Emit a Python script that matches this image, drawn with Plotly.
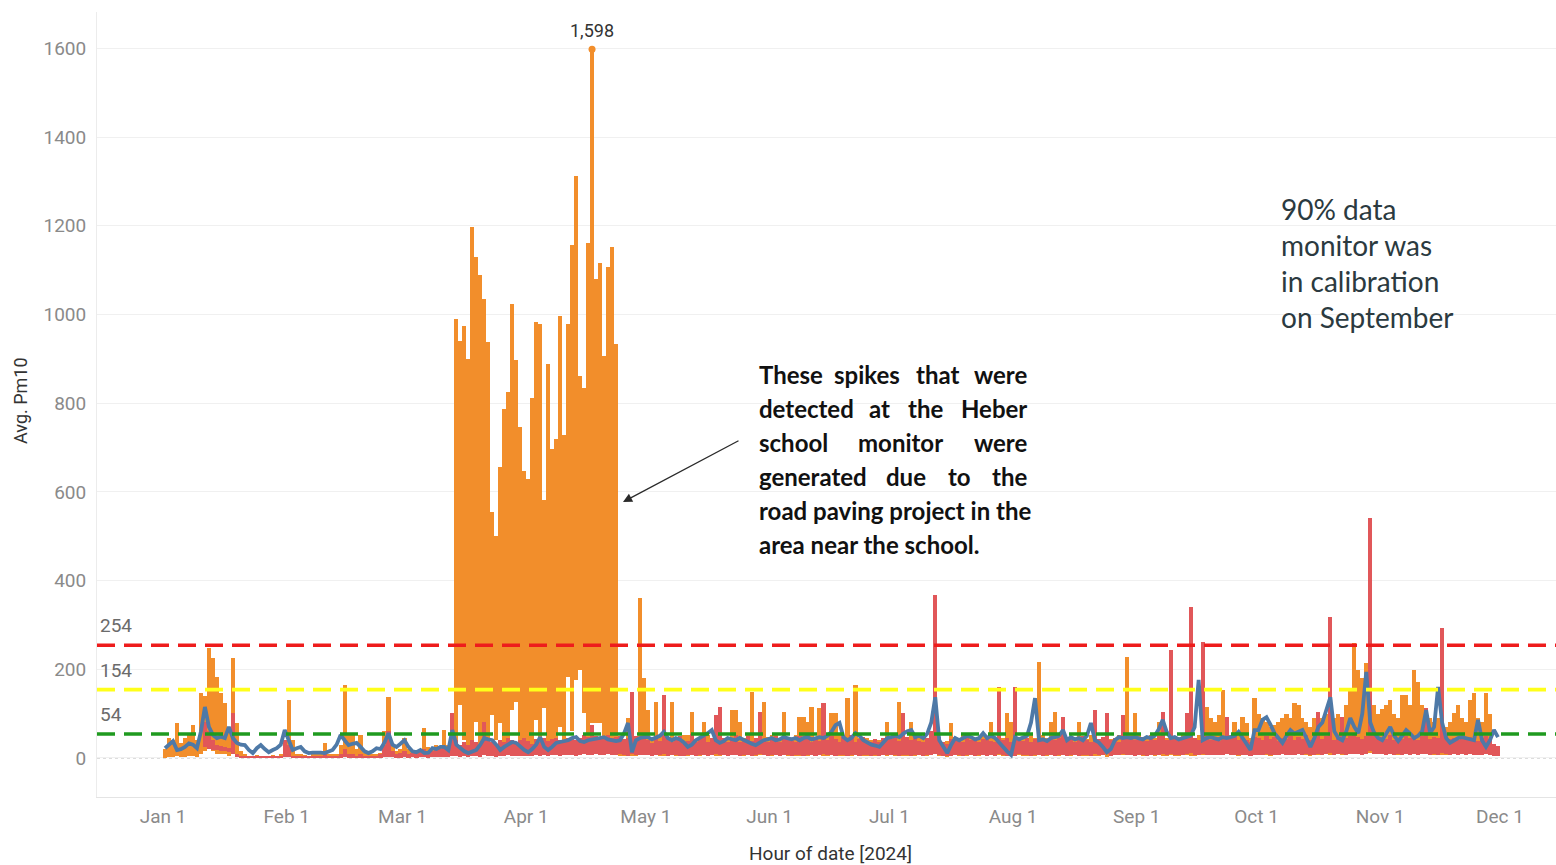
import pandas as pd
import plotly.graph_objects as go

# ---------------------------------------------------------------------------
# Daily summaries of the hourly Pm10 readings, 1 Jan - 30 Nov 2024.
# Each row holds one month.
# ---------------------------------------------------------------------------

# Heber school monitor: highest hourly value of each day
heber_high = [
    20, 45, 40, 79, 34, 45, 55, 74, 40, 146, 140, 248, 225, 183, 146, 124, 70, 225, 79, 15, 8, 5, 5, 6, 5, 4, 5, 6, 5, 8, 40,
    131, 40, 10, 8, 6, 5, 8, 10, 12, 34, 10, 8, 10, 30, 164, 55, 52, 20, 52, 12, 10, 8, 10, 12, 60, 137, 30, 15, 20,
    45, 20, 15, 12, 20, 68, 25, 20, 30, 25, 63, 30, 101, 990, 940, 975, 900, 1197, 1129, 1089, 1036, 937, 554, 500, 656, 786, 825, 1023, 897, 746, 647,
    629, 811, 983, 978, 581, 888, 696, 719, 996, 728, 978, 1156, 1312, 861, 834, 1161, 1598, 1080, 1116, 906, 1107, 1152, 933, 50, 40, 90, 60, 50, 360, 180,
    108, 45, 126, 52, 42, 45, 126, 48, 40, 52, 52, 104, 42, 45, 81, 52, 42, 40, 45, 38, 45, 108, 108, 80, 45, 52, 149, 45, 52, 126, 48,
    52, 52, 45, 104, 45, 42, 52, 92, 92, 80, 115, 45, 113, 45, 52, 101, 101, 52, 45, 135, 45, 164, 45, 42, 45, 40, 38, 40, 42, 81,
    45, 42, 126, 52, 45, 81, 45, 48, 42, 45, 48, 100, 42, 35, 38, 79, 45, 42, 52, 45, 48, 42, 45, 52, 45, 80, 45, 52, 45, 101, 81,
    81, 45, 42, 45, 52, 45, 216, 52, 45, 80, 104, 52, 86, 45, 42, 45, 80, 45, 42, 52, 45, 42, 45, 40, 42, 45, 52, 80, 228, 52, 101,
    52, 45, 50, 52, 45, 80, 52, 45, 52, 48, 45, 52, 80, 52, 45, 52, 80, 115, 90, 80, 97, 153, 90, 52, 80, 52, 92, 79, 45, 135,
    100, 90, 80, 70, 75, 80, 90, 100, 90, 124, 120, 90, 80, 70, 90, 80, 90, 100, 80, 90, 100, 80, 120, 150, 259, 198, 180, 214, 150, 120, 100,
    110, 120, 131, 100, 90, 142, 142, 120, 198, 171, 120, 100, 90, 80, 90, 80, 70, 80, 101, 119, 90, 80, 131, 146, 90, 80, 146, 100, None, None,
]

# Heber school monitor: lowest hourly value of each day
heber_low = [
    0, 2, 3, 5, 2, 3, 5, 4, 2, 10, 15, 20, 15, 10, 10, 8, 5, 10, 3, 2, 1, 1, 1, 1, 1, 1, 1, 1, 1, 1, 2,
    5, 3, 1, 1, 1, 1, 1, 1, 1, 2, 1, 1, 1, 2, 5, 3, 3, 2, 3, 1, 1, 1, 1, 1, 3, 5, 3, 2, 2,
    3, 2, 2, 2, 3, 5, 3, 3, 4, 3, 5, 4, 8, 30, 119, 40, 30, 40, 81, 30, 40, 30, 97, 40, 79, 30, 40, 108, 126, 30, 40,
    20, 30, 86, 40, 113, 30, 40, 30, 70, 40, 183, 60, 176, 198, 101, 40, 79, 79, 79, 30, 40, 30, 20, 5, 5, 8, 5, 5, 10, 8,
    6, 5, 8, 5, 4, 6, 7, 5, 4, 6, 5, 8, 5, 4, 6, 5, 7, 5, 4, 6, 5, 8, 6, 5, 4, 6, 8, 5, 6, 7, 5,
    5, 6, 4, 7, 5, 6, 5, 4, 6, 5, 7, 5, 6, 4, 5, 7, 6, 5, 4, 6, 5, 8, 5, 4, 5, 6, 4, 5, 6, 5,
    6, 5, 7, 5, 4, 6, 5, 6, 4, 5, 6, 8, 5, 4, 3, 5, 6, 5, 7, 5, 6, 4, 5, 6, 5, 7, 5, 6, 4, 6, 5,
    5, 6, 4, 5, 6, 5, 9, 6, 5, 7, 6, 5, 6, 4, 5, 6, 7, 5, 4, 6, 5, 4, 6, 3, 5, 6, 7, 6, 10, 6, 7,
    6, 5, 6, 7, 5, 6, 5, 4, 6, 5, 4, 6, 7, 5, 4, 6, 7, 9, 8, 6, 7, 10, 8, 6, 7, 5, 8, 6, 4, 9,
    8, 7, 6, 5, 6, 7, 8, 9, 7, 10, 9, 8, 7, 5, 8, 7, 8, 9, 7, 8, 9, 7, 10, 12, 15, 14, 12, 15, 12, 10, 8,
    9, 10, 11, 8, 7, 12, 11, 10, 14, 13, 10, 8, 7, 6, 8, 7, 6, 7, 9, 10, 8, 7, 11, 12, 8, 7, 12, 8, None, None,
]

# Second monitor: highest hourly value of each day
second_high = [
    None, None, None, None, None, None, None, None, None, None, 80, 60, 40, 30, 28, 25, 22, 101, 10, 5, 4, 4, 3, 3, 3, 4, 3, 3, 4, 5, 40,
    30, 5, 4, 3, 3, 4, 3, 3, 4, 8, 4, 3, 4, 8, 20, 10, 8, 5, 10, 5, 4, 4, 5, 8, 30, 60, 15, 10, 12,
    15, 10, 12, 10, 15, 20, 12, 15, 18, 20, 25, 20, 101, 40, 30, 35, 30, 40, 35, 30, 81, 40, 35, 30, 40, 35, 45, 40, 35, 40, 45,
    38, 32, 42, 36, 45, 38, 42, 46, 40, 36, 44, 48, 40, 45, 52, 48, 74, 50, 44, 48, 52, 45, 48, 50, 42, 46, 149, 50, 42, 46,
    40, 34, 48, 38, 142, 44, 36, 40, 50, 32, 38, 55, 35, 42, 48, 37, 44, 97, 115, 46, 36, 42, 52, 35, 40, 49, 38, 45, 104, 40, 35,
    40, 50, 36, 42, 47, 38, 35, 49, 42, 53, 37, 44, 38, 124, 40, 50, 42, 36, 47, 40, 52, 37, 42, 48, 38, 35, 42, 37, 44, 48,
    42, 47, 38, 101, 48, 40, 50, 38, 36, 46, 60, 367, 48, 35, 32, 42, 48, 40, 37, 50, 40, 46, 36, 42, 48, 38, 37, 160, 40, 44, 36,
    160, 40, 38, 46, 36, 42, 50, 40, 37, 48, 40, 45, 92, 38, 48, 36, 42, 50, 40, 37, 108, 42, 48, 101, 40, 46, 37, 97, 42, 48, 40,
    42, 48, 38, 46, 40, 50, 104, 40, 243, 48, 38, 45, 101, 340, 46, 40, 261, 50, 40, 46, 38, 48, 92, 42, 50, 40, 46, 40, 36, 48,
    46, 40, 50, 42, 48, 38, 46, 42, 50, 40, 48, 42, 52, 40, 46, 104, 42, 50, 318, 40, 48, 92, 44, 50, 55, 48, 42, 50, 541, 60, 46,
    48, 42, 52, 40, 46, 42, 50, 44, 48, 40, 50, 113, 42, 48, 44, 293, 50, 42, 46, 40, 50, 44, 48, 42, 38, 44, 50, 42, 32, 28,
]

# Second monitor: lowest hourly value of each day
second_low = [
    None, None, None, None, None, None, None, None, None, None, 25, 20, 18, 17, 16, 15, 14, 10, 2, 1, 1, 1, 1, 1, 1, 1, 1, 1, 1, 1, 2,
    2, 1, 1, 1, 1, 1, 1, 1, 1, 1, 1, 1, 1, 1, 2, 1, 1, 1, 1, 1, 1, 1, 1, 1, 2, 3, 2, 1, 1,
    2, 1, 2, 1, 2, 2, 1, 2, 2, 3, 3, 2, 5, 4, 3, 4, 3, 5, 4, 3, 6, 4, 5, 3, 4, 5, 6, 4, 5, 4, 5,
    4, 5, 6, 5, 6, 5, 6, 7, 5, 6, 7, 6, 5, 7, 8, 6, 7, 8, 6, 7, 8, 6, 7, 8, 6, 5, 8, 7, 6, 7,
    6, 5, 7, 6, 8, 5, 6, 7, 5, 4, 6, 7, 5, 6, 7, 5, 6, 8, 7, 6, 5, 6, 7, 5, 6, 7, 5, 6, 8, 6, 5,
    6, 7, 5, 6, 7, 5, 6, 7, 5, 6, 7, 5, 6, 8, 6, 7, 5, 6, 7, 5, 6, 7, 5, 6, 7, 5, 6, 5, 6, 7,
    6, 7, 5, 7, 6, 5, 7, 6, 5, 6, 7, 9, 6, 5, 4, 5, 6, 7, 5, 6, 7, 5, 6, 7, 5, 6, 5, 8, 6, 5, 4,
    5, 8, 6, 7, 5, 6, 7, 5, 6, 7, 5, 6, 7, 5, 6, 7, 5, 6, 7, 5, 8, 6, 7, 8, 5, 6, 7, 8, 6, 7, 5,
    6, 7, 5, 6, 7, 6, 8, 6, 10, 7, 6, 7, 8, 12, 7, 6, 10, 7, 6, 7, 6, 7, 8, 6, 7, 6, 7, 6, 5, 7,
    7, 6, 8, 7, 6, 7, 8, 6, 7, 6, 8, 7, 8, 6, 7, 9, 7, 8, 12, 7, 8, 9, 7, 8, 9, 8, 7, 8, 15, 9, 8,
    8, 7, 9, 7, 8, 7, 8, 7, 8, 7, 8, 10, 7, 8, 7, 12, 8, 7, 8, 7, 8, 7, 8, 7, 6, 7, 8, 7, 5, 5,
]

# Daily average Pm10
daily_average = [
    22, 30, 38, 18, 20, 25, 33, 30, 22, 60, 115, 70, 52, 45, 48, 45, 70, 45, 34, 30, 29, 18, 11, 22, 29, 20, 13, 18, 22, 30, 63,
    40, 18, 22, 25, 15, 11, 12, 13, 12, 11, 15, 18, 30, 52, 40, 29, 32, 34, 25, 15, 11, 15, 22, 20, 35, 56, 30, 25, 32,
    40, 25, 15, 13, 18, 11, 12, 22, 20, 25, 25, 18, 63, 30, 22, 15, 11, 15, 18, 30, 45, 42, 40, 30, 18, 25, 30, 36, 34, 25, 18,
    13, 20, 30, 47, 25, 18, 25, 34, 36, 38, 40, 45, 47, 38, 36, 40, 42, 45, 45, 47, 42, 40, 38, 40, 55, 79, 13, 40, 45, 47,
    47, 42, 45, 50, 59, 45, 40, 45, 42, 35, 25, 30, 40, 45, 50, 56, 63, 40, 34, 38, 45, 42, 40, 45, 40, 35, 32, 29, 35, 40, 42,
    45, 40, 42, 47, 45, 42, 45, 40, 45, 47, 42, 45, 47, 45, 50, 59, 74, 79, 47, 40, 45, 56, 50, 40, 35, 30, 28, 25, 35, 45,
    47, 50, 47, 55, 60, 63, 47, 50, 45, 55, 80, 137, 40, 25, 11, 30, 45, 40, 45, 50, 47, 42, 45, 56, 45, 50, 45, 34, 25, 15, 7,
    47, 42, 45, 50, 80, 135, 40, 42, 38, 45, 47, 50, 63, 40, 47, 42, 45, 40, 50, 79, 40, 35, 25, 13, 20, 40, 47, 45, 47, 45, 47,
    45, 42, 47, 45, 50, 65, 86, 59, 45, 47, 42, 45, 47, 50, 70, 176, 40, 45, 47, 45, 42, 47, 45, 47, 50, 59, 45, 30, 18, 63,
    63, 86, 92, 75, 56, 45, 34, 50, 63, 55, 60, 63, 45, 25, 45, 70, 80, 110, 137, 60, 45, 40, 60, 90, 70, 56, 100, 194, 80, 56, 45,
    40, 55, 70, 50, 38, 50, 63, 55, 45, 50, 60, 108, 56, 70, 160, 80, 45, 34, 40, 45, 47, 45, 42, 40, 86, 40, 25, 40, 63, 47,
]

# Pm10 category thresholds and their line colours
thresholds = [254, 154, 54]
threshold_colors = ["#ee1c1c", "#ffff1a", "#1f9a1f"]

month_ticks = ["Jan 1", "Feb 1", "Mar 1", "Apr 1", "May 1", "Jun 1",
               "Jul 1", "Aug 1", "Sep 1", "Oct 1", "Nov 1", "Dec 1"]
y_ticks = [0, 200, 400, 600, 800, 1000, 1200, 1400, 1600]

# ---------------------------------------------------------------------------
days = pd.date_range("2024-01-01", periods=len(daily_average), freq="D")
noon = days + pd.Timedelta(hours=12)
month_starts = pd.date_range("2024-01-01", periods=len(month_ticks), freq="MS")
DAY_MS = 24 * 3600 * 1000


def daily_range(highs, lows):
    """Bar base and height covering each day's hourly low-to-high swing."""
    base = [lo if hi is not None else None for hi, lo in zip(highs, lows)]
    span = [hi - lo if hi is not None else None for hi, lo in zip(highs, lows)]
    return base, span


ORANGE = "#f28e2b"
RED = "#e15759"
BLUE = "#4e79a7"

fig = go.Figure()

hb, hs = daily_range(heber_high, heber_low)
fig.add_trace(go.Bar(x=noon, y=hs, base=hb, width=DAY_MS * 1.04,
                     marker=dict(color=ORANGE, line=dict(width=0)),
                     name="Heber school", hoverinfo="skip"))

sb, ss = daily_range(second_high, second_low)
fig.add_trace(go.Bar(x=noon, y=ss, base=sb, width=DAY_MS * 1.04,
                     marker=dict(color=RED, line=dict(width=0)),
                     name="Second monitor", hoverinfo="skip"))

fig.add_trace(go.Scatter(x=noon, y=daily_average, mode="lines",
                         name="Daily average",
                         line=dict(color=BLUE, width=3.8)))

# highest reading, marked and labelled
peak_val = max(v for v in heber_high if v is not None)
peak_x = noon[heber_high.index(peak_val)]
fig.add_trace(go.Scatter(x=[peak_x], y=[peak_val], mode="markers",
                         marker=dict(color=ORANGE, size=7)))

W, H = 1556, 865
ML, MR, MT, MB = 97, 0, 12, 68


def px_x(px):
    return (px - ML) / (W - ML - MR)


def px_y(py):
    return (H - MB - py) / (H - MT - MB)


annotations = [
    dict(x=peak_x, y=peak_val, xref="x", yref="y", text=f"{peak_val:,}",
         showarrow=False, yanchor="bottom", yshift=6,
         font=dict(family="Roboto", size=18, color="#333333")),
]

# zero line and threshold lines with their labels
shapes = [
    dict(type="line", xref="paper", yref="y", x0=0, x1=1, y0=0, y1=0,
         line=dict(color="#b8b8b8", width=1, dash="dot"), layer="below"),
]
for val, col in zip(thresholds, threshold_colors):
    shapes.append(dict(type="line", xref="paper", yref="y", x0=0, x1=1,
                       y0=val, y1=val, layer="above",
                       line=dict(color=col, width=3.6, dash="18px,9px")))
    annotations.append(dict(x=0, y=val, xref="paper", yref="y", text=str(val),
                            showarrow=False, xanchor="left", yanchor="bottom",
                            xshift=1, yshift=6,
                            font=dict(family="Roboto", size=19, color="#6b6b6b")))

# explanatory note, justified word by word
note_font = dict(family="Lato", size=24, color="#111111", weight="bold")
note_lines = [
    (374, [("These", 757, 820), ("spikes", 834, 900), ("that", 914, 960), ("were", 974, 1029)]),
    (408, [("detected", 757, 852), ("at", 868, 890), ("the", 906, 946), ("Heber", 963, 1029)]),
    (442, [("school", 757, 826), ("monitor", 857, 944), ("were", 974, 1029)]),
    (476, [("generated", 757, 865), ("due", 883, 929), ("to", 947, 971), ("the", 990, 1029)]),
    (510, [("road paving project in the", 757, 1029)]),
    (544, [("area near the school.", 757, 977)]),
]
for cy, words in note_lines:
    n = len(words)
    for k, (word, x0, x1) in enumerate(words):
        if k == 0:
            ax, anchor = x0, "left"
        elif k == n - 1:
            ax, anchor = x1, "right"
        else:
            ax, anchor = (x0 + x1) / 2, "center"
        annotations.append(dict(x=px_x(ax), y=px_y(cy), xref="paper", yref="paper",
                                text=word, showarrow=False, xanchor=anchor,
                                yanchor="middle", font=note_font))

# arrow pointing at the spike period
annotations.append(dict(x=px_x(623), y=px_y(502), xref="paper", yref="paper",
                        text="", showarrow=True, ax=740 - 623, ay=440 - 502,
                        arrowhead=2, arrowsize=1.4, arrowwidth=1.3,
                        arrowcolor="#2a2a2a"))

# calibration note
calib_lines = ["90% data", "monitor was", "in calibration", "on September"]
for i, line in enumerate(calib_lines):
    annotations.append(dict(x=px_x(1279), y=px_y(209 + 36 * i), xref="paper", yref="paper",
                            text=line, showarrow=False, xanchor="left", yanchor="middle",
                            font=dict(family="Lato", size=28, color="#2b3a40")))

# axis titles
annotations.append(dict(x=px_x(830), y=px_y(853), xref="paper", yref="paper",
                        text="Hour of date [2024]", showarrow=False,
                        xanchor="center", yanchor="middle",
                        font=dict(family="Roboto", size=19, color="#333333")))
annotations.append(dict(x=px_x(20), y=px_y(401), xref="paper", yref="paper",
                        text="Avg. Pm10", showarrow=False, textangle=-90,
                        xanchor="center", yanchor="middle",
                        font=dict(family="Roboto", size=18, color="#333333")))

fig.update_layout(
    width=W, height=H,
    margin=dict(l=ML, r=MR, t=MT, b=MB),
    plot_bgcolor="white", paper_bgcolor="white",
    showlegend=False,
    barmode="overlay",
    bargap=0,
    shapes=shapes,
    annotations=annotations,
    xaxis=dict(
        range=[pd.Timestamp("2023-12-15 11:00"), pd.Timestamp("2024-12-15 01:00")],
        tickvals=month_starts, ticktext=month_ticks,
        showgrid=False, zeroline=False,
        showline=True, linecolor="#e4e4e4", linewidth=1,
        ticks="",
        tickfont=dict(family="Roboto", size=19, color="#8a8a8a"),
        ticklabelstandoff=2,
    ),
    yaxis=dict(
        range=[-88, 1682],
        tickvals=y_ticks,
        showgrid=True, gridcolor="#f0f0f0", gridwidth=1,
        zeroline=False,
        showline=True, linecolor="#ececec", linewidth=1,
        tickfont=dict(family="Roboto", size=19, color="#8a8a8a"),
        ticklabelstandoff=6,
    ),
)

fig.write_html("out.html")
